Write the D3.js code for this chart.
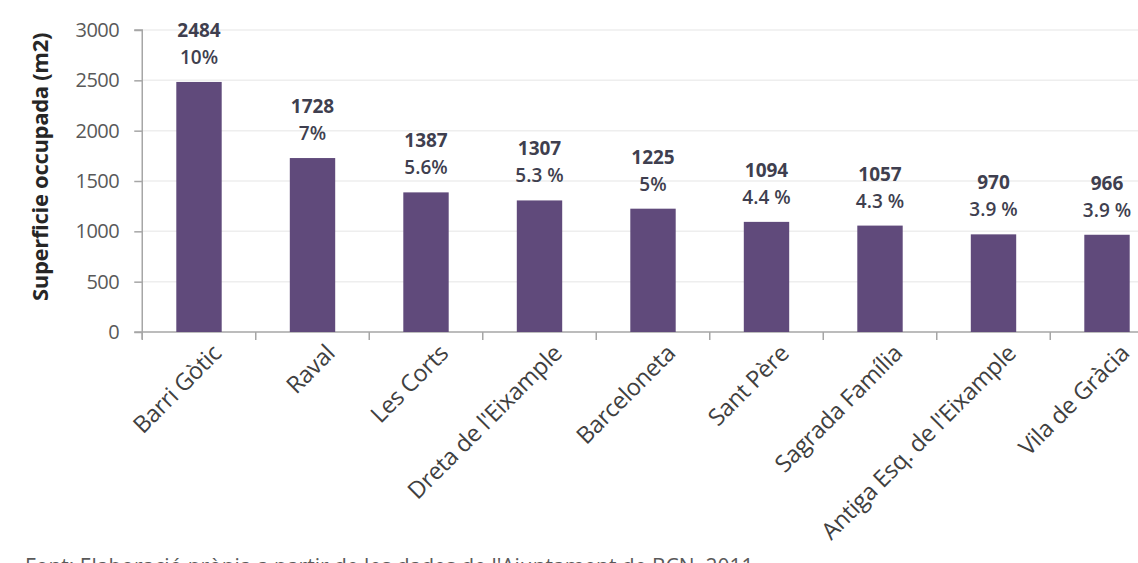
<!DOCTYPE html>
<html><head><meta charset="utf-8">
<script src="https://cdn.jsdelivr.net/npm/d3@7"></script>
<style>body{margin:0;background:#fff;overflow:hidden}svg{display:block}</style>
</head><body><svg id="c" width="1138" height="563"></svg>
<script>
const categories = ["Barri Gòtic","Raval","Les Corts","Dreta de l'Eixample","Barceloneta","Sant Père","Sagrada Família","Antiga Esq. de l'Eixample","Vila de Gràcia"];
const values = [2484,1728,1387,1307,1225,1094,1057,970,966];
const percents = ["10%","7%","5.6%","5.3 %","5%","4.4 %","4.3 %","3.9 %","3.9 %"];
const yTicks = [0,500,1000,1500,2000,2500,3000];
const yTitle = "Superficie occupada (m2)";
const source = "Font: Elaboració pròpia a partir de les dades de l'Ajuntament de BCN, 2011";

(function(){
const svg = d3.select("#c");
const font = "'Open Sans', 'Noto Sans', sans-serif";
const pl = 142.25, pr = 1163.75, pt = 30, pb = 332;
const x = d3.scaleBand().domain(categories).range([pl, pr]).paddingInner(0.6).paddingOuter(0.3);
const y = d3.scaleLinear().domain([0,3000]).range([pb, pt]);

// gridlines
svg.append("g").selectAll("line").data(yTicks.filter(d=>d>0)).join("line")
  .attr("x1", pl).attr("x2", 1138).attr("y1", d=>y(d)).attr("y2", d=>y(d))
  .attr("stroke", "#eeeeee").attr("stroke-width", 1.5);

// y axis
const ya = svg.append("g").attr("transform", `translate(${pl},0)`)
  .call(d3.axisLeft(y).tickValues(yTicks).tickSize(8).tickPadding(15).tickFormat(d3.format("d")));
ya.select(".domain").attr("stroke", "#a6a6a6").attr("stroke-width", 1.5).attr("d", `M-8,${pt}H0V${pb+7}`);
ya.selectAll(".tick line").attr("stroke", "#a6a6a6").attr("stroke-width", 1.5);
ya.selectAll(".tick text").attr("fill", "#595959").style("font-family", font).style("font-size", "20px").style("letter-spacing", "-0.5px");

// x axis
const bandStep = x.step();
const xa = svg.append("g").attr("transform", `translate(0,${pb})`)
  .call(d3.axisBottom(x).tickSize(0).tickFormat(""));
xa.select(".domain").attr("stroke", "#a6a6a6").attr("stroke-width", 1.5).attr("d", `M${pl-8},0H1138`);
const bounds = categories.map((c,i)=> x(c) + x.bandwidth()/2 - bandStep/2);
svg.append("g").selectAll("line").data(bounds).join("line")
  .attr("x1", d=>d).attr("x2", d=>d).attr("y1", pb).attr("y2", pb+8)
  .attr("stroke", "#a6a6a6").attr("stroke-width", 1.5);

// bars
svg.append("g").selectAll("rect").data(values).join("rect")
  .attr("x", (d,i)=>x(categories[i])).attr("width", x.bandwidth())
  .attr("y", d=>y(d)).attr("height", d=>pb - y(d)).attr("fill", "#604A7B");

// data labels
const lab = svg.append("g").style("font-family", font).attr("fill", "#3f3f4f").attr("text-anchor", "middle");
lab.selectAll("text.v").data(values).join("text").attr("class","v")
  .attr("x", (d,i)=>x(categories[i]) + x.bandwidth()/2).attr("y", d=>y(d) - 45)
  .style("font-size", "19px").style("font-weight", "bold").text(d=>d);
lab.selectAll("text.p").data(percents).join("text").attr("class","p")
  .attr("x", (d,i)=>x(categories[i]) + x.bandwidth()/2).attr("y", (d,i)=>y(values[i]) - 18)
  .style("font-size", "19px").style("font-weight", "600").text(d=>d);

// category labels
svg.append("g").selectAll("text").data(categories).join("text")
  .attr("transform", d=>`translate(${x(d) + x.bandwidth()/2 + 18},${pb + 17}) rotate(-45)`)
  .attr("text-anchor", "end").attr("dy", "0.35em")
  .style("font-family", font).style("font-size", "23.5px").style("letter-spacing", "-0.3px")
  .attr("fill", "#404040").text(d=>d);

// y title
svg.append("text").attr("transform", `translate(40,${(pt+pb)/2 - 14}) rotate(-90)`)
  .attr("text-anchor", "middle").attr("dy", "0.35em")
  .style("font-family", font).style("font-size", "22px").style("font-weight", "bold").style("letter-spacing", "-0.3px")
  .attr("fill", "#262626").text(yTitle);

// source (cut off at bottom, as in the original)
svg.append("text").attr("x", 25).attr("y", 574)
  .style("font-family", font).style("font-size", "21px").attr("fill", "#595959").text(source);
})();
</script></body></html>
